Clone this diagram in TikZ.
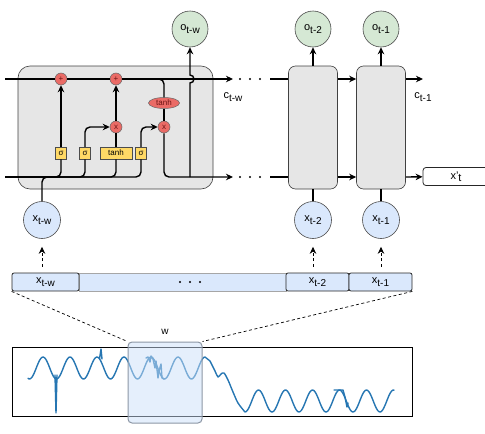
\documentclass[tikz,border=0pt]{standalone}
\usepackage{fontspec}
\setmainfont{Liberation Sans}
\usetikzlibrary{arrows.meta,positioning,calc,shapes.geometric}
\definecolor{cellfill}{RGB}{230,230,230}
\definecolor{outfill}{RGB}{213,232,212}
\definecolor{infill}{RGB}{218,232,252}
\definecolor{opfill}{RGB}{234,107,102}
\definecolor{optext}{RGB}{110,20,20}
\definecolor{gatefill}{RGB}{255,217,102}
\definecolor{winfill}{RGB}{204,224,250}
\definecolor{winline}{RGB}{140,150,165}
\definecolor{sigcolor}{RGB}{38,118,178}
\newcommand{\vsub}[2]{#1\raisebox{-0.4ex}{\fontsize{10}{10}\selectfont #2}}
\newcommand{\hdots}[1]{%
  \foreach \d in {0,10,20} \fill ($#1+(\d,0)$) circle (1.2);
}

\begin{document}
\begin{tikzpicture}[x=1pt, y=-1pt, font=\fontsize{11}{12}\selectfont,
        cellbox/.style={draw=black!75, fill=cellfill, rounded corners=7, line width=0.6pt},
        outnode/.style={circle, draw=black!70, fill=outfill, minimum size=36, inner sep=0, line width=0.6pt},
        innode/.style={circle, draw=black!70, fill=infill, minimum size=37, inner sep=0, line width=0.6pt},
        opnode/.style={circle, draw=black!60, fill=opfill, minimum size=12, inner sep=0, text=optext, font=\fontsize{8}{8}\selectfont, line width=0.5pt},
        gatebox/.style={draw=black!70, fill=gatefill, minimum height=12, minimum width=11, inner sep=1pt, font=\fontsize{8}{8}\selectfont, line width=0.5pt},
        seqbox/.style={draw=black!85, fill=infill, rounded corners=2, minimum height=18, inner sep=0, line width=0.8pt},
        flow/.style={line width=1.4pt, rounded corners=5},
        arr/.style={-{Stealth[length=7pt,width=6.5pt]}},
        dashlink/.style={dashed, dash pattern=on 3pt off 2.5pt, line width=0.8pt},
        sigline/.style={draw=sigcolor, line width=1.4pt, line join=round, line cap=round}]
        \useasboundingbox (0,0) rectangle (485,434);
        % cells
        \node[cellbox, rounded corners=12, minimum width=195, minimum height=123] (cellW) at (115.5,127.5) {};
        \node[cellbox, minimum width=49, minimum height=123] (cellT2) at (313,127.5) {};
        \node[cellbox, minimum width=49, minimum height=123] (cellT1) at (381,127.5) {};
        \node[outnode] (oW) at (190,29) {\vsub{o}{t-w}};
        \node[outnode] (oT2) at (313,29) {\vsub{o}{t-2}};
        \node[outnode] (oT1) at (381,29) {\vsub{o}{t-1}};
        \node[innode] (xW) at (42,220) {\vsub{x}{t-w}};
        \node[innode] (xT2) at (313,220) {\vsub{x}{t-2}};
        \node[innode] (xT1) at (381,220) {\vsub{x}{t-1}};
        % inside the first cell
        \node[opnode] (plusF) at (61,79) {+};
        \node[opnode] (plusI) at (116,79) {+};
        \node[opnode] (timesI) at (116,127) {x};
        \node[opnode] (timesO) at (164,127) {x};
        \node[opnode, ellipse, minimum width=31, minimum height=11] (tanhC) at (164,103) {tanh};
        \node[gatebox] (sigF) at (61,153) {σ};
        \node[gatebox] (sigI) at (85,153) {σ};
        \node[gatebox, minimum width=32] (tanhG) at (116,153) {tanh};
        \node[gatebox] (sigO) at (141,153) {σ};
        \coordinate (cIn) at (5,79);
        \coordinate (hIn) at (5,177);
        \coordinate (cOutW) at (233,79);
        \coordinate (hOutW) at (233,177);
        \coordinate (xJoin) at (60,177);
        \coordinate (hJoin) at (190,177);
        \coordinate (hopLow) at (190,83);
        \coordinate (cInT2) at (270,79);
        \coordinate (hInT2) at (270,177);
        \coordinate (cOutT1) at (423,79);
        \draw[flow] (cIn) -- (plusF);
        \draw[flow] (plusF) -- (plusI);
        \draw[flow,arr] (plusI) -- (cOutW);
        \draw[flow] (plusI) -| (tanhC);
        \foreach \g in {sigF,sigI,tanhG,sigO} \draw[flow] (hIn) -| (\g);
        \draw[flow] (xW) |- (xJoin);
        \draw[flow,arr] (sigF) -- (plusF);
        \draw[flow,arr] (sigI) |- (timesI);
        \draw[flow] (tanhG) -- (timesI);
        \draw[flow,arr] (timesI) -- (plusI);
        \draw[flow,arr] (sigO) |- (timesO);
        \draw[flow] (tanhC) -- (timesO);
        \draw[flow,arr] (timesO) |- (hOutW);
        \draw[line width=1.4pt,arr] (hJoin) -- (hopLow) arc[start angle=90, end angle=-90, radius=4] -- (oW);
        \hdots{(240,79)}
        \hdots{(240,177)}
        \node (cW) at (233,97) {\vsub{c}{t-w}};
        % later cells
        \draw[flow] (cInT2) -- (cInT2 -| cellT2.west);
        \draw[flow] (hInT2) -- (hInT2 -| cellT2.west);
        \draw[flow,arr] (cellT2.east |- cIn) -- (cellT1.west |- cIn);
        \draw[flow,arr] (cellT2.east |- hIn) -- (cellT1.west |- hIn);
        \draw[flow,arr] (cellT1.east |- cIn) -- (cOutT1);
        \node[draw=black!85, fill=white, rounded corners=3, minimum width=66, minimum height=18, line width=0.8pt] (pred) at (456,176.5) {x'\raisebox{-0.4ex}{t}};
        \draw[flow,arr] (cellT1.east |- hIn) -- (pred);
        \node (cT1) at (423,97) {\vsub{c}{t-1}};
        \draw[flow,arr] (cellT2) -- (oT2);
        \draw[flow,arr] (cellT1) -- (oT1);
        \draw[flow] (xT2) -- (cellT2);
        \draw[flow] (xT1) -- (cellT1);
        % input sequence
        \node[seqbox, draw=black!35, minimum width=207, rounded corners=0] (seqMid) at (182.5,282) {};
        \node[seqbox, minimum width=67] (seqW) at (45.5,282) {\vsub{x}{t-w}};
        \node[seqbox, minimum width=63] (seqT2) at (317.5,282) {\vsub{x}{t-2}};
        \node[seqbox, minimum width=63] (seqT1) at (380.5,282) {\vsub{x}{t-1}};
        \hdots{(180,282)}
        \draw[dashlink,arr,shorten <=6pt,shorten >=8pt] (seqW.north -| xW) -- (xW);
        \draw[dashlink,arr,shorten <=6pt,shorten >=8pt] (seqT2.north -| xT2) -- (xT2);
        \draw[dashlink,arr,shorten <=6pt,shorten >=8pt] (seqT1.north -| xT1) -- (xT1);
        % time series and window
        \node[draw, minimum width=400, minimum height=69, line width=0.8pt] (plotBox) at (212,381.5) {};
        \draw[sigline] plot[domain=28:205, samples=140] (\x,{368-11*cos(13.3333*(\x-43))})
          -- plot[smooth, tension=0.5] coordinates {(210,361) (215,371) (218,377) (221,374) (224,373) (228,380) (233,392) (238,403) (245,412)}
          -- plot[domain=245:394, samples=120] (\x,{401+11*cos(13.3333*(\x-245))});
        \draw[sigline] (55,375) -- (56,413) -- (57,375);
        \draw[sigline] (99.5,359) -- (101,349) -- (102,359);
        \draw[sigline] (146,358) -- (148,357) -- (150,362) -- (151,356) -- (153,359) -- (155,368) -- (156,361) -- (158,378) -- (159,371) -- (161,364) -- (162,378) -- (164,379);
        \draw[sigline] (334,390) -- (343,390) -- (345,397) -- (347,407) -- (348,403);
        \node[draw=winline, fill=winfill, fill opacity=0.5, rounded corners=4, minimum width=74, minimum height=81, line width=1pt] (win) at (165,382.5) {};
        \node[font=\fontsize{10}{10}\selectfont] (winLab) at (165,332) {w};
        \draw[dashlink,line width=0.7pt] (seqW.south west) -- (win.north west);
        \draw[dashlink,line width=0.7pt] (seqT1.south east) -- (win.north east);
      \end{tikzpicture}
\end{document}
